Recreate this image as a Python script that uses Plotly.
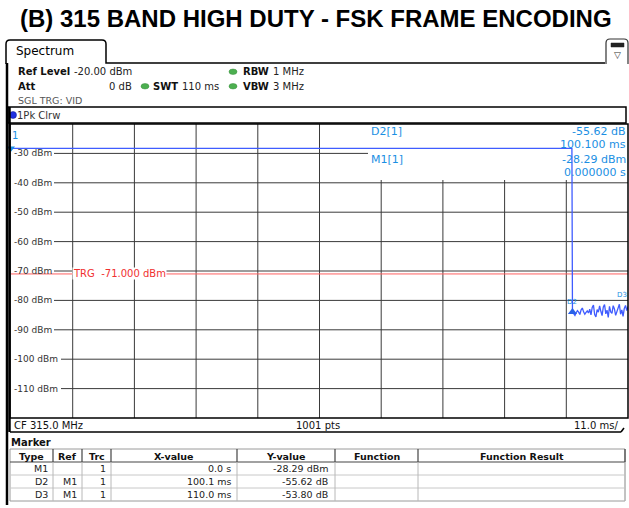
import plotly.graph_objects as go

W, H = 629, 508

title_text = "(B) 315 BAND HIGH DUTY - FSK FRAME ENCODING"

# axes (time in ms, level in dBm)
x_range_ms = [0.0, 110.0]
y_range_dbm = [-120.0, -20.0]
x_grid_ms = [11, 22, 33, 44, 55, 66, 77, 88, 99]
y_grid_dbm = [-30, -40, -50, -60, -70, -80, -90, -100, -110]
y_tick_labels = ["-30 dBm", "-40 dBm", "-50 dBm", "-60 dBm", "-70 dBm",
                 "-80 dBm", "-90 dBm", "-100 dBm", "-110 dBm"]

# trace: burst (flat) then noise floor
burst_t_ms = [0.0, 100.0]
burst_dbm = [-28.29, -28.29]
noise_t_ms = [100.10, 100.32, 100.54, 100.76, 100.98, 101.20, 101.42, 101.64, 101.86,
              102.08, 102.30, 102.52, 102.74, 102.96, 103.18, 103.40, 103.62, 103.84,
              104.06, 104.28, 104.50, 104.72, 104.94, 105.16, 105.38, 105.60, 105.82,
              106.04, 106.26, 106.48, 106.70, 106.92, 107.14, 107.36, 107.58, 107.80,
              108.02, 108.24, 108.46, 108.68, 108.90, 109.12, 109.34, 109.56, 109.78,
              110.00]
noise_dbm = [-83.9, -84.6, -85.1, -84.2, -83.5, -84.0, -84.8, -83.2, -82.6, -83.9,
             -84.7, -84.1, -83.6, -84.3, -83.0, -84.9, -82.4, -81.6, -84.8, -85.6,
             -83.1, -84.0, -81.9, -83.7, -85.2, -82.2, -81.4, -84.6, -83.3, -85.8,
             -82.0, -83.9, -84.4, -81.8, -82.9, -85.1, -84.0, -82.5, -81.3, -84.7,
             -83.2, -85.4, -82.7, -81.7, -83.5, -82.09]

trigger_dbm = -71.0

# marker table
table_headers = ["Type", "Ref", "Trc", "X-value", "Y-value", "Function", "Function Result"]
marker_type = ["M1", "D2", "D3"]
marker_ref = ["", "M1", "M1"]
marker_trc = ["1", "1", "1"]
marker_xval = ["0.0 s", "100.1 ms", "110.0 ms"]
marker_yval = ["-28.29 dBm", "-55.62 dB", "-53.80 dB"]
marker_t_ms = [0.0, 100.1, 110.0]
marker_level_dbm = [-28.29, -83.91, -82.09]


def X(p):
    return p / W


def Y(p):
    return 1 - p / H


FONT = "DejaVu Sans"
MK_BLUE = "#1b8fe3"
TRACE_BLUE = "#3f5cff"

shapes = []
annotations = []


def line(x0, y0, x1, y1, color="black", width=1, xref="paper", yref="paper", layer="above"):
    if xref == "paper":
        x0, x1 = X(x0), X(x1)
    if yref == "paper":
        y0, y1 = Y(y0), Y(y1)
    shapes.append(dict(type="line", xref=xref, yref=yref, x0=x0, y0=y0, x1=x1, y1=y1,
                       line=dict(color=color, width=width), layer=layer))


def rect(x0, y0, x1, y1, color="black", width=1, fill=None, layer="above"):
    d = dict(type="rect", xref="paper", yref="paper", x0=X(x0), y0=Y(y0), x1=X(x1), y1=Y(y1),
             line=dict(color=color, width=width), layer=layer)
    if fill:
        d["fillcolor"] = fill
    shapes.append(d)


def text(x, y, s, size=10, color="#111", xanchor="left", bold=False, family=FONT,
         xref="paper", yref="paper", bg=None, yshift=0):
    if xref == "paper":
        x = X(x)
    if yref == "paper":
        y = Y(y)
    a = dict(x=x, y=y, xref=xref, yref=yref, text=("<b>%s</b>" % s) if bold else s,
             showarrow=False, xanchor=xanchor, yanchor="middle",
             font=dict(family=family, size=size, color=color), borderpad=0, yshift=yshift)
    if bg:
        a["bgcolor"] = bg
    annotations.append(a)


# ---- title
text(316, 18, title_text, size=24, color="black", xanchor="center", bold=True,
     family="Liberation Sans")

# ---- spectrum tab + frame
tab_path = ("M %f,%f L %f,%f Q %f,%f %f,%f L %f,%f Q %f,%f %f,%f L %f,%f L %f,%f" % (
    X(6), Y(64), X(6), Y(44), X(6), Y(40), X(10), Y(40), X(102), Y(40),
    X(106), Y(40), X(106), Y(44), X(106), Y(63), X(605), Y(63)))
shapes.append(dict(type="path", xref="paper", yref="paper", path=tab_path,
                   line=dict(color="black", width=1.5)))
text(15, 51, "Spectrum", size=12, color="black")
line(7, 63, 7, 505, width=2.5)

# top-right icon
icon_path = ("M %f,%f L %f,%f Q %f,%f %f,%f L %f,%f Q %f,%f %f,%f L %f,%f" % (
    X(606), Y(64), X(606), Y(43), X(606), Y(39), X(610), Y(39), X(624), Y(39),
    X(628), Y(39), X(628), Y(43), X(628), Y(64)))
shapes.append(dict(type="path", xref="paper", yref="paper", path=icon_path,
                   line=dict(color="#333", width=1.2)))
rect(611, 43, 624, 47, color="#222", width=0.5, fill="#222")
text(617.5, 55, "▽", size=9, color="#333", xanchor="center")

# ---- header info
text(17, 72, "Ref Level", size=10, bold=True)
text(73, 72, "-20.00 dBm", size=10, color="#222")
text(17, 86, "Att", size=10, bold=True)
text(108, 86, "0 dB", size=10, color="#222")
for cx in [145, 233]:
    shapes.append(dict(type="circle", xref="paper", yref="paper",
                       x0=X(cx - 4), x1=X(cx + 4), y0=Y(83.5), y1=Y(89),
                       fillcolor="#4caf50", line=dict(color="#3a8f3e", width=0.5)))
shapes.append(dict(type="circle", xref="paper", yref="paper",
                   x0=X(229), x1=X(237), y0=Y(69), y1=Y(74.5),
                   fillcolor="#4caf50", line=dict(color="#3a8f3e", width=0.5)))
text(152, 86, "SWT", size=10, bold=True)
text(181, 86, "110 ms", size=10, color="#222")
text(242, 72, "RBW", size=10, bold=True)
text(272, 72, "1 MHz", size=10, color="#222")
text(242, 86, "VBW", size=10, bold=True)
text(272, 86, "3 MHz", size=10, color="#222")
text(17, 101, "SGL TRG: VID", size=9.5, color="#555")

# trace label box
rect(8, 107, 626, 123, color="black", width=1.5)
shapes.append(dict(type="circle", xref="paper", yref="paper",
                   x0=X(9.5), x1=X(16.5), y0=Y(111.5), y1=Y(118.5),
                   fillcolor="#2030e0", line=dict(color="#101890", width=0.5)))
text(16, 115.5, "1Pk Clrw", size=10, color="#333")

# ---- plot grid (manual, leaving label / marker box gaps)
GRID = "#3a3a3a"
for v in x_grid_ms:
    top = Y(124)
    if v >= 66:
        top = Y(180)
    shapes.append(dict(type="line", xref="x", yref="paper", x0=v, x1=v, y0=Y(418), y1=top,
                       line=dict(color=GRID, width=1), layer="below"))
for v, lab in zip(y_grid_dbm, y_tick_labels):
    xs = 54 if len(lab) <= 7 else 61
    xe = 368 if v == -30 else 628
    shapes.append(dict(type="line", xref="paper", yref="y", x0=X(xs), x1=X(xe), y0=v, y1=v,
                       line=dict(color=GRID, width=1), layer="below"))
    text(13, v, lab, size=9, color="#333", yref="y")

# trigger line + label
shapes.append(dict(type="line", xref="paper", yref="y", x0=X(11), x1=X(628),
                   y0=trigger_dbm, y1=trigger_dbm,
                   line=dict(color="#ff6060", width=1), layer="below"))
text(72, trigger_dbm, "TRG\u00a0\u00a0%.3f dBm" % trigger_dbm, size=10, color="#f03030",
     yref="y", bg="white")

# plot frame
rect(10, 124, 628, 418, color="black", width=1.5)
line(9.5, 107, 9.5, 432, width=2.5)

# bottom bar
line(10, 432, 621, 432, width=1.5)
line(621, 432, 624, 428, width=1.5)
text(13, 425, "CF 315.0 MHz", size=10, color="#111")
text(318, 425, "1001 pts", size=10, color="#111", xanchor="center")
text(619, 425, "11.0 ms/", size=10, color="#111", xanchor="right")

# marker info box
text(370, 131, "%s[1]" % marker_type[1], size=11, color=MK_BLUE)
text(627, 131, marker_yval[1], size=11, color=MK_BLUE, xanchor="right")
text(627, 145, "%.3f ms" % marker_t_ms[1], size=11, color=MK_BLUE, xanchor="right")
text(370, 159, "%s[1]" % marker_type[0], size=11, color=MK_BLUE)
text(627, 159, marker_yval[0], size=11, color=MK_BLUE, xanchor="right")
text(627, 172, "%.6f s" % (marker_t_ms[0] / 1000), size=11, color=MK_BLUE, xanchor="right")

# marker labels on trace
text(marker_t_ms[0], marker_level_dbm[0], "1", size=10, color=MK_BLUE, xref="x", yref="y",
     xanchor="left", yshift=13)
text(marker_t_ms[1], marker_level_dbm[1], "D2", size=7, color=MK_BLUE, xref="x", yref="y",
     xanchor="center", yshift=10)
text(marker_t_ms[2], marker_level_dbm[2], "D3", size=7, color=MK_BLUE, xref="x", yref="y",
     xanchor="right", yshift=12)

# ---- marker table
text(10, 442, "Marker", size=10, color="#111", bold=True)
col_edges = [10, 53, 82, 111, 237, 335, 418, 625]
rect(10, 449, 625, 501, color="#9a9a9a", width=1)
line(10, 462, 625, 462, color="#444", width=1.2)
for ry in [475, 488]:
    line(10, ry, 625, ry, color="#c8c8c8", width=1)
for cx in col_edges[1:]:
    line(cx, 449, cx, 462, color="#444", width=1.2)
    line(cx, 462, cx, 501, color="#b8b8b8", width=1)
for i, h in enumerate(table_headers):
    text((col_edges[i] + col_edges[i + 1]) / 2, 456, h, size=9.5, color="#111",
         xanchor="center", bold=True)
row_y = [468.5, 481.5, 494.5]
for i in range(len(marker_type)):
    ry = row_y[i]
    text(49, ry, marker_type[i], size=9.5, color="#222", xanchor="right")
    if marker_ref[i]:
        text(78, ry, marker_ref[i], size=9.5, color="#222", xanchor="right")
    text(107, ry, marker_trc[i], size=9.5, color="#222", xanchor="right")
    text(232, ry, marker_xval[i], size=9.5, color="#222", xanchor="right")
    text(329, ry, marker_yval[i], size=9.5, color="#222", xanchor="right")

# ---- figure
fig = go.Figure()
fig.add_trace(go.Scatter(x=burst_t_ms + noise_t_ms, y=burst_dbm + noise_dbm, mode="lines",
                         line=dict(color=TRACE_BLUE, width=1.3), hoverinfo="skip",
                         showlegend=False))
fig.add_trace(go.Scatter(x=[marker_t_ms[0]], y=[marker_level_dbm[0]], mode="markers",
                         marker=dict(symbol="triangle-down", size=7, color=MK_BLUE),
                         cliponaxis=False, showlegend=False, hoverinfo="skip"))
fig.add_trace(go.Scatter(x=[marker_t_ms[1]], y=[marker_level_dbm[1]], mode="markers",
                         marker=dict(symbol="triangle-up", size=8, color="#2a62e8"),
                         cliponaxis=False, showlegend=False, hoverinfo="skip"))

fig.update_layout(
    width=W, height=H, margin=dict(l=0, r=0, t=0, b=0),
    paper_bgcolor="white", plot_bgcolor="white",
    xaxis=dict(range=x_range_ms, domain=[X(11), X(628)], showgrid=False, zeroline=False,
               showticklabels=False, ticks="", showline=False, fixedrange=True),
    yaxis=dict(range=y_range_dbm, domain=[Y(418), Y(124)], showgrid=False, zeroline=False,
               showticklabels=False, ticks="", showline=False, fixedrange=True),
    shapes=shapes, annotations=annotations, showlegend=False,
)

fig.write_html("out.html", config={"displayModeBar": False},
               post_script="document.body.style.margin='0px';"
                           "document.body.style.overflow='hidden';")
